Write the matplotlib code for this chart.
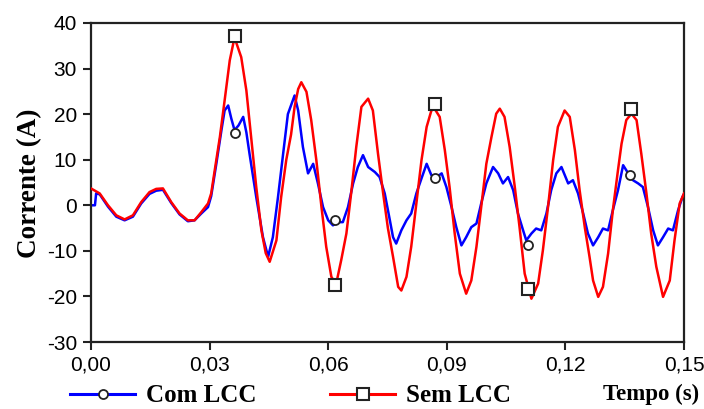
import matplotlib
matplotlib.use('Agg')
import matplotlib.pyplot as plt
from matplotlib.lines import Line2D
from matplotlib.ticker import FuncFormatter

plt.rcParams['axes.unicode_minus'] = False

# Sem LCC (red)
t_sem = [0.0000, 0.0022, 0.0043, 0.0064, 0.0085, 0.0106, 0.0127, 0.0148, 0.0165, 0.0182,
         0.0203, 0.0224, 0.0245, 0.0262, 0.0279, 0.0296, 0.0304, 0.0313, 0.0326, 0.0338,
         0.0351, 0.0363, 0.0380, 0.0393, 0.0405, 0.0418, 0.0431, 0.0442, 0.0452, 0.0469,
         0.0481, 0.0494, 0.0506, 0.0515, 0.0524, 0.0532, 0.0545, 0.0557, 0.0570, 0.0583,
         0.0595, 0.0608, 0.0620, 0.0633, 0.0646, 0.0658, 0.0671, 0.0684, 0.0701, 0.0713,
         0.0726, 0.0739, 0.0751, 0.0764, 0.0777, 0.0785, 0.0798, 0.0810, 0.0823, 0.0836,
         0.0849, 0.0861, 0.0869, 0.0882, 0.0895, 0.0907, 0.0920, 0.0933, 0.0949, 0.0962,
         0.0975, 0.0987, 0.1000, 0.1013, 0.1025, 0.1034, 0.1046, 0.1059, 0.1072, 0.1084,
         0.1097, 0.1114, 0.1131, 0.1143, 0.1156, 0.1169, 0.1181, 0.1198, 0.1211, 0.1224,
         0.1236, 0.1249, 0.1261, 0.1270, 0.1283, 0.1295, 0.1308, 0.1320, 0.1333, 0.1342,
         0.1354, 0.1367, 0.1380, 0.1392, 0.1405, 0.1417, 0.1430, 0.1447, 0.1464, 0.1476,
         0.1489, 0.1500]
i_sem = [3.7, 2.6, 0.0, -2.2, -3.1, -2.2, 0.7, 2.9, 3.6, 3.7,
         0.7, -1.8, -3.3, -3.3, -1.5, 0.4, 2.6, 7.7, 15.0, 23.0,
         31.8, 36.8, 32.5, 25.2, 15.0, 4.0, -5.5, -10.5, -12.4, -7.7,
         1.8, 10.0, 15.5, 21.6, 25.5, 27.0, 24.9, 18.7, 9.9, -0.4,
         -9.1, -15.7, -17.3, -12.0, -6.2, 2.6, 12.8, 21.6, 23.4, 20.8,
         11.3, 2.6, -5.0, -11.3, -17.9, -18.7, -15.7, -9.1, 0.4, 9.9,
         17.2, 20.8, 21.2, 19.4, 12.1, 4.0, -6.2, -15.0, -19.4, -16.5,
         -9.1, -0.4, 9.1, 15.0, 20.1, 21.2, 19.4, 12.8, 4.0, -4.8,
         -15.0, -20.5, -17.2, -9.9, -0.4, 9.9, 17.2, 20.8, 19.4, 12.1,
         3.3, -4.8, -11.3, -16.5, -20.1, -17.9, -10.6, -1.1, 7.7, 13.5,
         18.7, 20.1, 18.7, 11.3, 2.6, -6.2, -13.5, -20.1, -16.5, -7.7,
         0.4, 2.6]

# Com LCC (blue)
t_com = [0.0000, 0.0010, 0.0013, 0.0022, 0.0043, 0.0064, 0.0085, 0.0106, 0.0127, 0.0148,
         0.0165, 0.0182, 0.0203, 0.0224, 0.0245, 0.0262, 0.0279, 0.0296, 0.0304, 0.0317,
         0.0330, 0.0338, 0.0347, 0.0355, 0.0363, 0.0373, 0.0385, 0.0393, 0.0401, 0.0418,
         0.0435, 0.0448, 0.0460, 0.0473, 0.0486, 0.0498, 0.0515, 0.0524, 0.0536, 0.0549,
         0.0562, 0.0574, 0.0587, 0.0600, 0.0612, 0.0625, 0.0637, 0.0650, 0.0663, 0.0675,
         0.0688, 0.0701, 0.0718, 0.0730, 0.0743, 0.0756, 0.0764, 0.0772, 0.0785, 0.0798,
         0.0810, 0.0823, 0.0836, 0.0849, 0.0861, 0.0874, 0.0887, 0.0899, 0.0912, 0.0924,
         0.0937, 0.0949, 0.0962, 0.0975, 0.0987, 0.1000, 0.1017, 0.1030, 0.1042, 0.1055,
         0.1068, 0.1080, 0.1093, 0.1101, 0.1114, 0.1126, 0.1139, 0.1152, 0.1164, 0.1177,
         0.1190, 0.1207, 0.1219, 0.1232, 0.1245, 0.1257, 0.1270, 0.1283, 0.1295, 0.1308,
         0.1320, 0.1333, 0.1346, 0.1359, 0.1371, 0.1384, 0.1396, 0.1409, 0.1422, 0.1434,
         0.1447, 0.1460, 0.1472, 0.1485, 0.1496, 0.1500]
i_com = [0.0, 0.0, 2.6, 2.4, -0.3, -2.5, -3.3, -2.5, 0.4, 2.5,
         3.2, 3.4, 0.5, -2.0, -3.5, -3.3, -1.8, -0.4, 2.0, 9.1,
         16.5, 20.8, 21.9, 19.0, 16.5, 17.5, 19.4, 16.0, 11.3, 1.8,
         -7.0, -11.3, -7.0, 1.8, 11.3, 20.0, 24.1, 20.8, 12.8, 7.0,
         9.1, 4.8, -0.4, -3.3, -4.4, -3.7, -3.7, -0.4, 4.8, 8.4,
         11.0, 8.4, 7.3, 6.2, 2.6, -3.3, -7.0, -8.4, -5.5, -3.3,
         -1.8, 2.6, 5.9, 9.1, 6.6, 6.2, 7.0, 4.0, -0.4, -4.8,
         -8.8, -7.0, -4.8, -4.0, 0.4, 4.8, 8.4, 7.0, 4.8, 6.2,
         3.3, -1.8, -5.5, -7.7, -6.2, -5.1, -5.5, -1.8, 3.3, 7.0,
         8.4, 4.8, 5.5, 2.6, -1.8, -6.2, -8.8, -7.0, -5.1, -5.5,
         -1.1, 3.3, 8.8, 7.0, 5.5, 4.8, 4.0, -0.4, -5.5, -8.8,
         -7.0, -5.1, -5.5, -1.1, 1.8, 2.5]

# marker points
t_mark_sem = [0.0363, 0.0616, 0.0869, 0.1105, 0.1365]
i_mark_sem = [37.2, -17.5, 22.2, -18.3, 21.2]
t_mark_com = [0.0363, 0.0616, 0.0869, 0.1105, 0.1363]
i_mark_com = [15.9, -3.3, 5.9, -8.7, 6.7]

x_ticks = [0.00, 0.03, 0.06, 0.09, 0.12, 0.15]
y_ticks = [-30, -20, -10, 0, 10, 20, 30, 40]

BLUE = '#0000ff'
RED = '#ff0000'
SPINE = '#222222'
serif_bold = dict(family='Liberation Serif', weight='bold')

fig = plt.figure(figsize=(7.04, 4.09), dpi=100)
ax = fig.add_axes([91 / 704, 1 - 342 / 409, 593 / 704, 319 / 409])

ax.plot(t_com, i_com, color=BLUE, lw=1.8, zorder=2)
ax.plot(t_sem, i_sem, color=RED, lw=1.8, zorder=3)
ax.plot(t_mark_com, i_mark_com, ls='none', marker='o', ms=6.5, mfc='white',
        mec='#222222', mew=1.3, zorder=4)
ax.plot(t_mark_sem, i_mark_sem, ls='none', marker='s', ms=8.5, mfc='white',
        mec='#222222', mew=1.5, zorder=4)

ax.set_xlim(0, 0.15)
ax.set_ylim(-30, 40)
ax.set_xticks(x_ticks)
ax.set_yticks(y_ticks)
ax.xaxis.set_major_formatter(FuncFormatter(lambda v, p: f'{v:.2f}'.replace('.', ',')))
ax.tick_params(axis='both', direction='out', length=6, width=1.5, color=SPINE,
               labelsize=15, pad=4)
for lab in ax.get_xticklabels() + ax.get_yticklabels():
    lab.set_fontfamily('Liberation Sans')
for sp in ax.spines.values():
    sp.set_color(SPINE)
    sp.set_linewidth(1.6)

fig.text(30 / 704, 1 - 183 / 409, 'Corrente (A)', rotation=90, ha='center', va='center',
         fontsize=19.5, **serif_bold)
fig.text(699 / 704, 1 - 394 / 409, 'Tempo (s)', ha='right', va='center',
         fontsize=16.5, **serif_bold)

h_com = Line2D([], [], color=BLUE, lw=2.2, marker='o', ms=6.5, mfc='white', mec='#222222', mew=1.3)
h_sem = Line2D([], [], color=RED, lw=2.2, marker='s', ms=8.5, mfc='white', mec='#222222', mew=1.5)
leg_kw = dict(loc='center left', frameon=False, borderpad=0, borderaxespad=0,
              handlelength=2.6, handletextpad=0.45, numpoints=1,
              prop={'family': 'Liberation Serif', 'weight': 'bold', 'size': 18})
leg1 = fig.legend([h_com], ['Com LCC'], bbox_to_anchor=(70 / 704, 1 - 396 / 409), **leg_kw)
leg2 = fig.legend([h_sem], ['Sem LCC'], bbox_to_anchor=(330 / 704, 1 - 396 / 409), **leg_kw)

fig.savefig('out.png', dpi=100)
